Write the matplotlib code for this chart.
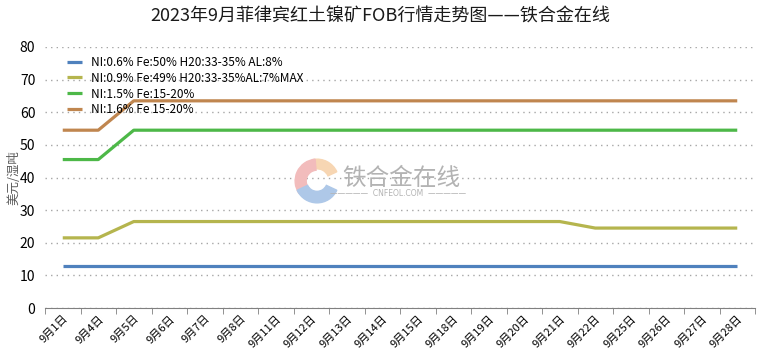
import matplotlib.pyplot as plt
from matplotlib.patches import Wedge

plt.rcParams['font.family'] = ['Noto Sans CJK SC', 'DejaVu Sans']

dates = ["9月1日", "9月4日", "9月5日", "9月6日", "9月7日", "9月8日", "9月11日", "9月12日",
         "9月13日", "9月14日", "9月15日", "9月18日", "9月19日", "9月20日", "9月21日",
         "9月22日", "9月25日", "9月26日", "9月27日", "9月28日"]
s1 = [13.0] * 20
s2 = [21.5, 21.5] + [26.5] * 13 + [24.5] * 5
s3 = [45.5, 45.5] + [54.5] * 18
s4 = [54.5, 54.5] + [63.5] * 18
names = ["NI:0.6% Fe:50% H20:33-35% AL:8%",
         "NI:0.9% Fe:49% H20:33-35%AL:7%MAX",
         "NI:1.5% Fe:15-20%",
         "NI:1.6% Fe 15-20%"]
colors = ["#4f81bd", "#b5b54e", "#4db848", "#c0864f"]

fig = plt.figure(figsize=(7.6, 3.59), dpi=100)
ax = fig.add_axes([45 / 760, 51 / 359, 710 / 760, 261 / 359])

x = list(range(len(dates)))
for ys, n, c in zip([s1, s2, s3, s4], names, colors):
    ax.plot(x, ys, color=c, lw=2.3, label=n, solid_capstyle='butt', zorder=3)

ax.set_xlim(-0.5, len(dates) - 0.5)
ax.set_ylim(0, 80)
ax.set_yticks(range(0, 81, 10))
ax.set_xticks(x)
ax.set_xticklabels(dates, rotation=45, ha='right', va='top', fontsize=8,
                   rotation_mode='anchor')
ax.set_xticks([i - 0.5 for i in range(len(dates) + 1)], minor=True)
ax.tick_params(axis='x', which='major', length=0, pad=4)
ax.tick_params(axis='x', which='minor', length=4, color='#808080')
ax.tick_params(axis='y', length=0, labelsize=10, pad=7)
for s in ['top', 'right', 'left']:
    ax.spines[s].set_visible(False)
ax.spines['bottom'].set_color('#808080')
ax.yaxis.grid(True, linestyle=(0, (1, 3)), color='#a6a6a6', lw=1)
ax.set_axisbelow(True)
ax.set_ylabel("美元/湿吨", fontsize=9, color='#595959')
ax.yaxis.set_label_coords(-0.035, 0.5)

leg = ax.legend(loc='upper left', bbox_to_anchor=(0.025, 0.985), frameon=False,
                fontsize=8.5, handlelength=1.2, labelspacing=0.25, borderaxespad=0)

fig.text(0.5, 0.955, "2023年9月菲律宾红土镍矿FOB行情走势图——铁合金在线",
         ha='center', va='center', fontsize=13, color='#1a1a1a')

# watermark
lax = fig.add_axes([294 / 760, 1 - 204 / 359, 46 / 760, 46 / 359])
lax.set_xlim(-1, 1)
lax.set_ylim(-1, 1)
lax.set_aspect('equal')
lax.axis('off')
lax.add_patch(Wedge((0, 0), 0.95, 25, 100, width=0.42, color='#f7d6b3'))
lax.add_patch(Wedge((0, 0), 0.95, 95, 215, width=0.48, color='#f2bcbc'))
lax.add_patch(Wedge((0, 0), 0.95, 205, 335, width=0.5, color='#aec8e8'))
fig.text(342 / 760, 1 - 178 / 359, "铁合金在线", fontsize=17, color='#b3b3b3',
         ha='left', va='center')
fig.text(398 / 760, 1 - 194 / 359, "—————  CNFEOL.COM  —————", fontsize=5.5,
         color='#b3b3b3', ha='center', va='center', family=['DejaVu Sans'])

fig.savefig("out.png", dpi=100)
